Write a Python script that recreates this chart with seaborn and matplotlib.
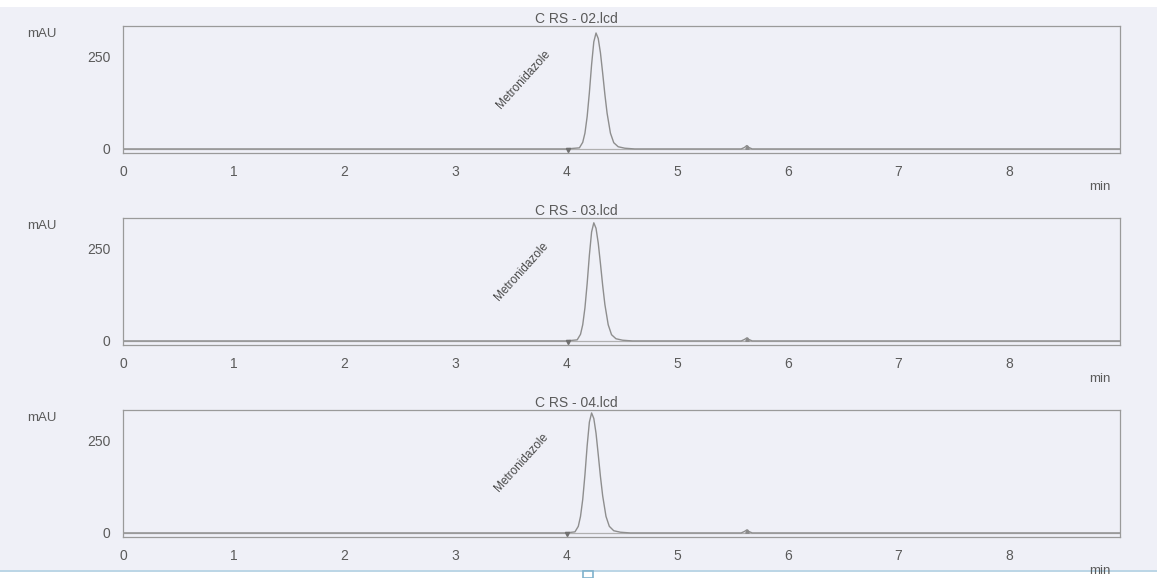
import matplotlib
matplotlib.use("Agg")
import matplotlib.pyplot as plt
from matplotlib.patches import Rectangle
from matplotlib.ticker import MultipleLocator
import pandas as pd
import seaborn as sns

sns.set_style("white")
plt.rcParams["font.family"] = ["Liberation Sans", "DejaVu Sans"]

# chromatogram traces (time in min, absorbance in mAU)
titles = ["C RS - 02.lcd", "C RS - 03.lcd", "C RS - 04.lcd"]
peak_name = "Metronidazole"

t_02 = [0.00, 4.00, 4.12, 4.15, 4.17, 4.19, 4.21, 4.23, 4.25, 4.27, 4.29, 4.31, 4.33,
        4.35, 4.37, 4.40, 4.43, 4.47, 4.53, 4.62, 5.58, 5.61, 5.63, 5.65, 5.68, 9.00]
mau_02 = [0, 0, 3, 18, 43, 88, 153, 229, 291, 315, 300, 261, 206,
          148, 97, 43, 17, 6, 2, 0, 0, 4, 9, 4, 0, 0]

t_03 = [0.00, 4.00, 4.10, 4.13, 4.15, 4.17, 4.19, 4.21, 4.23, 4.25, 4.27, 4.29, 4.31,
        4.33, 4.35, 4.38, 4.41, 4.45, 4.51, 4.60, 5.58, 5.61, 5.63, 5.65, 5.68, 9.00]
mau_03 = [0, 0, 3, 18, 44, 90, 156, 233, 296, 321, 306, 266, 210,
          151, 99, 44, 17, 6, 2, 0, 0, 4, 8, 4, 0, 0]

t_04 = [0.00, 4.00, 4.08, 4.11, 4.13, 4.15, 4.17, 4.19, 4.21, 4.23, 4.25, 4.27, 4.29,
        4.31, 4.33, 4.36, 4.39, 4.43, 4.49, 4.58, 5.58, 5.61, 5.63, 5.65, 5.68, 9.00]
mau_04 = [0, 0, 3, 18, 45, 91, 158, 237, 301, 326, 311, 271, 213,
          153, 101, 45, 18, 6, 2, 0, 0, 4, 8, 4, 0, 0]

times = [t_02, t_03, t_04]
signals = [mau_02, mau_03, mau_04]
label_pos = [(3.62, 190), (3.60, 190), (3.60, 192)]  # peak name anchor (min, mAU)
start_marks = [4.02, 4.02, 4.01]

paper = "#eff0f7"
line_c = "#8e8e8e"
text_c = "#5a5a5a"

fig = plt.figure(figsize=(11.57, 5.78), dpi=100)
fig.patch.set_facecolor("white")
# scanned paper area
fig.patches.append(Rectangle((0, 7 / 578), 1, 1 - 14 / 578, transform=fig.transFigure,
                             facecolor=paper, edgecolor="none", zorder=-10))
fig.patches.append(Rectangle((0, 1 - 572 / 578), 1, 2 / 578, transform=fig.transFigure,
                             facecolor="#bcd6e6", edgecolor="none", zorder=-9))
fig.patches.append(Rectangle((583 / 1157, 0), 10 / 1157, 7 / 578, transform=fig.transFigure,
                             facecolor="white", edgecolor="#7fb2cc", lw=1.2, zorder=-8))

bottoms = [1 - 153 / 578, 1 - 345 / 578, 1 - 537 / 578]
left, width, height = 123 / 1157, 997 / 1157, 127 / 578

for i in range(3):
    ax = fig.add_axes([left, bottoms[i], width, height])
    ax.set_facecolor("none")
    df = pd.DataFrame({"min": times[i], "mAU": signals[i]})
    sns.lineplot(data=df, x="min", y="mAU", ax=ax, color=line_c, lw=1.0, estimator=None)
    ax.axhline(0, color="#b0b0b0", lw=0.9, zorder=1)
    ax.plot([start_marks[i]], [-3], marker="v", ms=3, color="#707070", ls="none")
    ax.plot([5.63], [5], marker="^", ms=2.5, color="#8a8a8a", ls="none")

    ax.set_xlim(0, 9.0)
    ax.set_ylim(-11, 334)
    ax.set_xticks(range(0, 9))
    ax.xaxis.set_minor_locator(MultipleLocator(0.2))
    ax.set_yticks([0, 250])
    ax.yaxis.set_minor_locator(MultipleLocator(50))
    ax.tick_params(axis="both", which="major", direction="out", length=5, width=0.9,
                   color=line_c, labelcolor=text_c, labelsize=10, pad=4)
    ax.tick_params(axis="both", which="minor", direction="out", length=3, width=0.9,
                   color="#9a9a9a")
    for s in ax.spines.values():
        s.set_color("#9a9a9a")
        s.set_linewidth(0.9)
    ax.set_xlabel("")
    ax.set_ylabel("")

    ax.set_title(titles[i], x=0.455, pad=2, fontsize=10, color=text_c)
    ax.text(-0.081, 0.937, "mAU", transform=ax.transAxes, ha="center", va="center",
            fontsize=9.5, color=text_c)
    ax.text(0.98, -0.27, "min", transform=ax.transAxes, ha="center", va="center",
            fontsize=9.5, color=text_c)
    ax.text(label_pos[i][0], label_pos[i][1], peak_name, rotation=48, ha="center",
            va="center", rotation_mode="anchor", fontsize=8.5, color="#4a4a4a")

fig.savefig("out.png", dpi=100, facecolor=fig.get_facecolor())
